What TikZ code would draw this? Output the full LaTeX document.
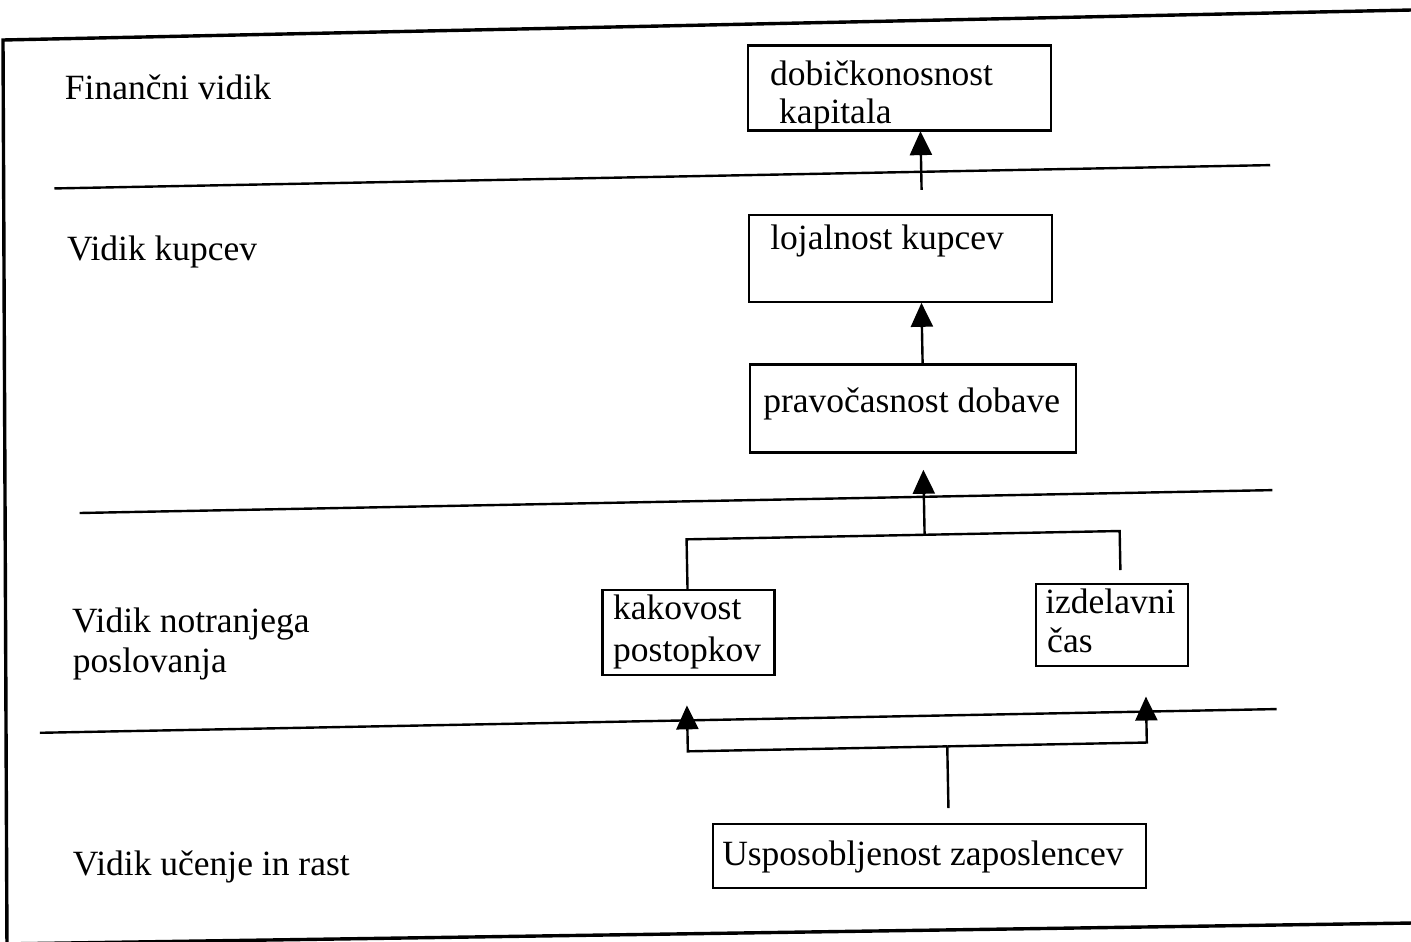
\documentclass[tikz,border=0pt]{standalone}
\usepackage{fontspec}
\setmainfont{Liberation Serif}
\usetikzlibrary{arrows.meta}
\tikzset{
  txt/.style={inner sep=0pt, anchor=base west, font=\fontsize{35.5}{40}\selectfont},
  box/.style={draw, line width=2.4pt, inner sep=0pt},
  rule/.style={line width=2.4pt},
  link/.style={line width=2.4pt},
  arr/.style={line width=2.4pt, -{Triangle[width=22pt,length=24pt]}},
  frame/.style={line width=3.4pt, line join=miter}
}
\begin{document}
\begin{tikzpicture}[x=1pt,y=-1pt]
\useasboundingbox (0,0) rectangle (1411,942);
\fill[white] (0,0) rectangle (1411,942);
% outer frame (as scanned)
\draw[frame] (1440,9.4) -- (3,40) -- (7,950);
\draw[frame] (0,944) -- (1440,922.6);
\begin{scope}[rotate around={1.1:(705,471)}]
% dividers
\draw[rule] (60,176) -- (1276,176);
\draw[rule] (79,501) -- (1272,501);
\draw[rule] (35,720) -- (1272,720);
% left labels
\node[txt] (l1) at (72,87.5) {Finančni vidik};
\node[txt] (l2) at (71,248.5) {Vidik kupcev};
\node[txt] (l3a) at (69,620) {Vidik notranjega};
\node[txt] (l3b) at (69,660) {poslovanja};
\node[txt] (l4) at (65,863.5) {Vidik učenje in rast};
% boxes
\node[box, minimum width=303pt, minimum height=85pt, anchor=north west] (b1) at (755,45) {};
\node[txt] (b1a) at (777.4,86.4) {dobičkonosnost};
\node[txt] (b1b) at (785.7,124.5) {kapitala};
\node[box, minimum width=303pt, minimum height=87pt, anchor=north west] (b2) at (752.7,214.7) {};
\node[txt] (b2a) at (774.3,250.5) {lojalnost kupcev};
\node[box, minimum width=326pt, minimum height=88pt, anchor=north west] (b3) at (751,364) {};
\node[txt] (b3a) at (764.2,414) {pravočasnost dobave};
\node[box, minimum width=172pt, minimum height=85pt, anchor=north west] (kak) at (599,587) {};
\node[txt] (kaka) at (610.2,617.5) {kakovost};
\node[txt] (kakb) at (609.4,659.7) {postopkov};
\node[box, minimum width=152pt, minimum height=82pt, anchor=north west] (izd) at (1032.6,589) {};
\node[txt] (izda) at (1042.3,619.8) {izdelavni};
\node[txt] (izdb) at (1043.5,659) {čas};
\node[box, minimum width=433pt, minimum height=64pt, anchor=north west] (usp) at (705,823) {};
\node[txt] (uspa) at (714.5,866.2) {Usposobljenost zaposlencev};
% connectors
\coordinate (a1) at (927,194);
\draw[arr] (a1) -- (a1 |- b1.south);
\coordinate (a2) at (924.7,330);
\draw[arr] (a2 |- b3.north) -- (a2 |- b2.south);
\coordinate (tl) at (685.3,539);
\coordinate (tr) at (1118.5,539);
\coordinate (trend) at (1118.5,578);
\coordinate (tm) at (923.4,539);
\coordinate (tmtip) at (923.4,474);
\draw[link] (tl |- kak.north) -- (tl) -- (tr) -- (trend);
\draw[arr] (tm) -- (tmtip);
\coordinate (bl) at (682.5,751);
\coordinate (br) at (1141.6,751);
\coordinate (bm) at (942,751);
\coordinate (bmend) at (942,812.7);
\coordinate (bltip) at (682.5,705);
\coordinate (brtip) at (1141.6,705);
\draw[link] (bmend) -- (bm);
\draw[arr] (bm) -- (bl) -- (bltip);
\draw[arr] (bm) -- (br) -- (brtip);
\end{scope}
\end{tikzpicture}
\end{document}
